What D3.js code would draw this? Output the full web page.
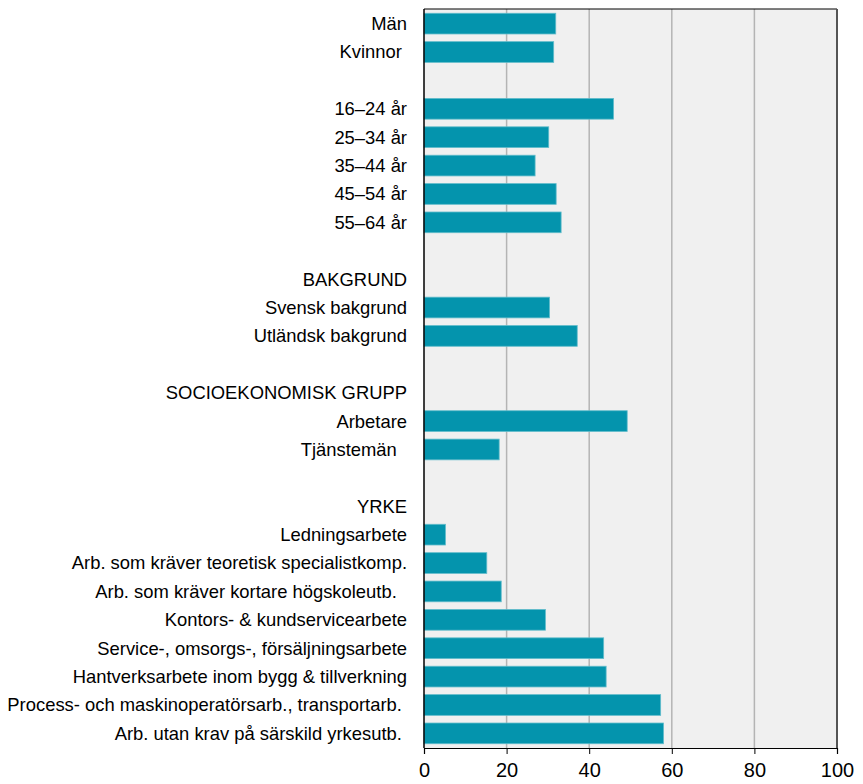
<!DOCTYPE html>
<html>
<head>
<meta charset="utf-8">
<script src="https://cdn.jsdelivr.net/npm/d3@7"></script>
<style>
  body { margin: 0; background: #fff; }
  svg { display: block; font-family: "Liberation Sans", Arial, sans-serif; }
</style>
</head>
<body>
<svg id="chart"></svg>
<script>
// Row labels (blank rows and group headers have no value)
const categories = [
  "Män", "Kvinnor ", "",
  "16–24 år", "25–34 år", "35–44 år", "45–54 år", "55–64 år", "",
  "BAKGRUND", "Svensk bakgrund", "Utländsk bakgrund", "",
  "SOCIOEKONOMISK GRUPP", "Arbetare", "Tjänstemän  ", "",
  "YRKE", "Ledningsarbete", "Arb. som kräver teoretisk specialistkomp.",
  "Arb. som kräver kortare högskoleutb.  ", "Kontors- & kundservicearbete",
  "Service-, omsorgs-, försäljningsarbete", "Hantverksarbete inom bygg & tillverkning",
  "Process- och maskinoperatörsarb., transportarb. ", "Arb. utan krav på särskild yrkesutb. "
];
const values = [
  31.9, 31.4, null,
  45.9, 30.2, 26.9, 32.0, 33.2, null,
  null, 30.4, 37.1, null,
  null, 49.2, 18.2, null,
  null, 5.2, 15.2, 18.7, 29.4, 43.5, 44.1, 57.3, 58.0
];
const xTicks = [0, 20, 40, 60, 80, 100];

const width = 863, height = 784;
const margin = { top: 9, right: 26, bottom: 36, left: 424 };

const svg = d3.select("#chart")
  .attr("width", width)
  .attr("height", height);

const rows = categories.map((c, i) => ({ label: c, value: values[i], i }));

const x = d3.scaleLinear()
  .domain([0, 100])
  .range([margin.left, width - margin.right]);

const y = d3.scaleBand()
  .domain(rows.map(d => d.i))
  .range([margin.top, height - margin.bottom])
  .paddingInner(0.27)
  .paddingOuter(0.15);

// plot background
svg.append("rect")
  .attr("x", x(0))
  .attr("y", margin.top)
  .attr("width", x(100) - x(0))
  .attr("height", height - margin.bottom - margin.top)
  .attr("fill", "#f0f0f0");

// grid lines
svg.append("g")
  .selectAll("line")
  .data(xTicks.slice(1, -1))
  .join("line")
  .attr("x1", d => x(d))
  .attr("x2", d => x(d))
  .attr("y1", margin.top)
  .attr("y2", height - margin.bottom)
  .attr("stroke", "#b4b4b4")
  .attr("stroke-width", 1.5);

// bars
svg.append("g")
  .selectAll("rect")
  .data(rows.filter(d => d.value != null))
  .join("rect")
  .attr("x", x(0))
  .attr("y", d => y(d.i))
  .attr("width", d => x(d.value) - x(0))
  .attr("height", y.bandwidth())
  .attr("fill", "#0494ad")
  .attr("stroke", "#62bccb")
  .attr("stroke-width", 0.8);

// frame: top black, right dark gray, left black
svg.append("line")
  .attr("x1", x(0)).attr("x2", x(100))
  .attr("y1", margin.top).attr("y2", margin.top)
  .attr("stroke", "#000").attr("stroke-width", 1);
svg.append("line")
  .attr("x1", x(100)).attr("x2", x(100))
  .attr("y1", margin.top).attr("y2", height - margin.bottom)
  .attr("stroke", "#555").attr("stroke-width", 2);
svg.append("line")
  .attr("x1", x(0)).attr("x2", x(0))
  .attr("y1", margin.top).attr("y2", height - margin.bottom)
  .attr("stroke", "#000").attr("stroke-width", 1.5);

// x axis
const xAxis = svg.append("g")
  .attr("transform", `translate(0,${height - margin.bottom})`)
  .call(d3.axisBottom(x).tickValues(xTicks).tickSize(6).tickPadding(9));
xAxis.selectAll("text")
  .attr("fill", "#000")
  .style("font-size", "20px")
  .style("font-family", "'Liberation Sans', Arial, sans-serif");
xAxis.selectAll("line").attr("stroke", "#000");
xAxis.select(".domain").attr("stroke", "#000").attr("stroke-width", 1.2);

// row labels
svg.append("g")
  .selectAll("text")
  .data(rows.filter(d => d.label !== ""))
  .join("text")
  .attr("x", 407)
  .attr("y", d => y(d.i) + y.bandwidth() / 2)
  .attr("dy", "0.35em")
  .attr("text-anchor", "end")
  .style("font-size", "18.4px")
  .style("white-space", "pre")
  .attr("fill", "#000")
  .text(d => d.label);
</script>
</body>
</html>
